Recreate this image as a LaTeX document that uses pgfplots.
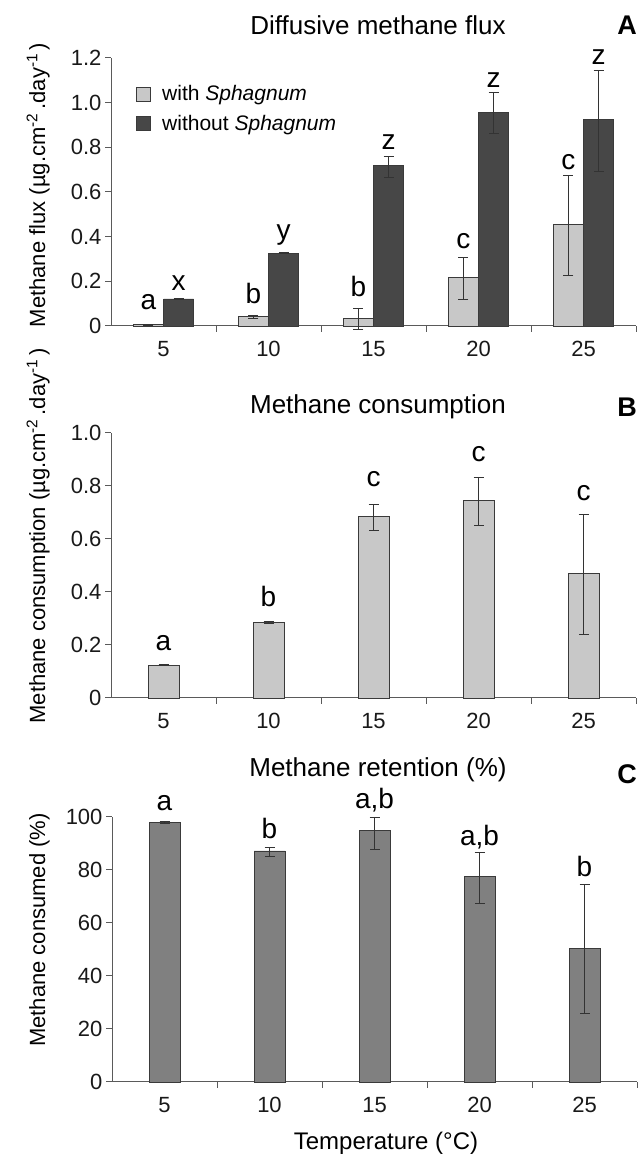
\documentclass[border=0pt]{standalone}
\usepackage{fontspec}
\setmainfont{Liberation Sans}
\usepackage{pgfplots}
\pgfplotsset{compat=1.18}
\definecolor{lightbar}{HTML}{C8C8C8}
\definecolor{darkbar}{HTML}{474747}
\definecolor{midbar}{HTML}{808080}
\definecolor{axgray}{HTML}{5A5A5A}
\definecolor{barline}{HTML}{3A3A3A}

\pgfplotsset{
  sqlegend/.style={legend image code/.code={\draw[##1,draw=barline,line width=0.8pt] (0pt,-7pt) rectangle (14pt,7pt);}},
  panel/.style={
    scale only axis, width=525pt,
    xmin=0.5, xmax=5.5,
    axis x line*=bottom, axis y line*=left,
    axis line style={axgray, line width=1pt, -},
    xtick={1,2,3,4,5}, xticklabels={5,10,15,20,25},
    minor xtick={1.5,2.5,3.5,4.5,5.5},
    major x tick style={draw=none},
    minor tick length=6pt, major tick length=6pt,
    tick align=outside,
    tick style={axgray, line width=1pt},
    ticklabel style={font=\fontsize{22}{26}\selectfont, text=black!90},
    x tick label style={yshift=-6pt},
    /pgf/number format/assume math mode=true,
    clip=false,
  },
  errs/.style={error bars/.cd, y dir=both, y explicit,
    error mark=|,
    error bar style={line width=0.9pt, black!80},
    error mark options={line width=0.9pt, black!80, mark size=5pt}},
}
\newcommand{\lett}{\fontsize{28}{32}\selectfont}
\newcommand{\ylab}{\fontsize{22}{26}\selectfont}

\begin{document}
\begin{tikzpicture}
\path[use as bounding box] (0,0) rectangle (637pt,1155pt);

% ---------- Panel A ----------
\begin{axis}[panel, at={(111pt,829pt)}, anchor=south west, height=268pt,
  ymin=0, ymax=1.2, ytick={0,0.2,0.4,0.6,0.8,1.0,1.2},
  yticklabels={0,0.2,0.4,0.6,0.8,1.0,1.2},
  legend style={at={(0.048,0.905)}, anchor=north west, draw=none, fill=none,
    inner sep=0pt, row sep=9pt, font=\fontsize{21}{24}\selectfont,
    /tikz/every odd column/.append style={column sep=9pt}},
  legend cell align=left]
\addplot[ybar, bar width=30pt, bar shift=0pt, fill=lightbar, draw=barline, line width=0.8pt, sqlegend, errs]
 table[x=x, y=y, y error plus=ep, y error minus=em]{
x y ep em
0.857 0.005 0.002 0.002
1.857 0.041 0.007 0.007
2.857 0.034 0.045 0.048
3.857 0.217 0.089 0.096
4.857 0.456 0.217 0.228
};
\addlegendentry{with \textit{Sphagnum}}
\addplot[ybar, bar width=30pt, bar shift=0pt, fill=darkbar, draw=barline, line width=0.8pt, sqlegend, errs]
 table[x=x, y=y, y error plus=ep, y error minus=em]{
x y ep em
1.143 0.121 0.002 0.002
2.143 0.326 0.003 0.003
3.143 0.720 0.041 0.056
4.143 0.957 0.089 0.094
5.143 0.925 0.217 0.234
};
\addlegendentry{without \textit{Sphagnum}}
\node[anchor=base, font=\lett] at (axis cs:0.857,0.076) {a};
\node[anchor=base, font=\lett] at (axis cs:1.857,0.099) {b};
\node[anchor=base, font=\lett] at (axis cs:2.857,0.134) {b};
\node[anchor=base, font=\lett] at (axis cs:3.857,0.349) {c};
\node[anchor=base, font=\lett] at (axis cs:4.857,0.700) {c};
\node[anchor=base, font=\lett] at (axis cs:1.143,0.161) {x};
\node[anchor=base, font=\lett] at (axis cs:2.143,0.386) {y};
\node[anchor=base, font=\lett] at (axis cs:3.143,0.790) {z};
\node[anchor=base, font=\lett] at (axis cs:4.143,1.070) {z};
\node[anchor=base, font=\lett] at (axis cs:5.143,1.170) {z};
\end{axis}

% ---------- Panel B ----------
\begin{axis}[panel, at={(111pt,457pt)}, anchor=south west, height=265pt,
  ymin=0, ymax=1.0, ytick={0,0.2,0.4,0.6,0.8,1.0},
  yticklabels={0,0.2,0.4,0.6,0.8,1.0}]
\addplot[ybar, bar width=31pt, bar shift=0pt, fill=lightbar, draw=barline, line width=0.8pt, errs]
 table[x=x, y=y, y error plus=ep, y error minus=em]{
x y ep em
1 0.124 0.002 0.002
2 0.284 0.003 0.003
3 0.686 0.046 0.054
4 0.746 0.088 0.094
5 0.469 0.223 0.228
};
\node[anchor=base, font=\lett] at (axis cs:1,0.181) {a};
\node[anchor=base, font=\lett] at (axis cs:2,0.344) {b};
\node[anchor=base, font=\lett] at (axis cs:3,0.797) {c};
\node[anchor=base, font=\lett] at (axis cs:4,0.891) {c};
\node[anchor=base, font=\lett] at (axis cs:5,0.746) {c};
\end{axis}

% ---------- Panel C ----------
\begin{axis}[panel, at={(112pt,73pt)}, anchor=south west, height=265pt,
  ymin=0, ymax=100, ytick={0,20,40,60,80,100},
  yticklabels={0,20,40,60,80,100}]
\addplot[ybar, bar width=31pt, bar shift=0pt, fill=midbar, draw=barline, line width=0.8pt, errs]
 table[x=x, y=y, y error plus=ep, y error minus=em]{
x y ep em
1 98.0 0.4 0.4
2 87.2 1.4 1.9
3 94.8 5.2 7.0
4 77.6 8.9 10.1
5 50.3 24.2 24.3
};
\node[anchor=base, font=\lett] at (axis cs:1,102.6) {a};
\node[anchor=base, font=\lett] at (axis cs:2,92.0) {b};
\node[anchor=base, font=\lett] at (axis cs:3,103.3) {a,b};
\node[anchor=base, font=\lett] at (axis cs:4,89.4) {a,b};
\node[anchor=base, font=\lett] at (axis cs:5,77.5) {b};
\end{axis}

% ---------- Titles, panel letters, axis labels ----------
\node[font=\fontsize{26}{30}\selectfont] at (378pt,1130pt) {Diffusive methane flux};
\node[font=\fontsize{26}{30}\selectfont] at (378pt,748pt) {Methane consumption};
\node[font=\fontsize{26}{30}\selectfont] at (378pt,385pt) {Methane retention (\%)};
\node[font=\bfseries\fontsize{27}{30}\selectfont, anchor=east, inner sep=0pt] at (637pt,1130pt) {A};
\node[font=\bfseries\fontsize{27}{30}\selectfont, anchor=east, inner sep=0pt] at (637pt,748pt) {B};
\node[font=\bfseries\fontsize{27}{30}\selectfont, anchor=east, inner sep=0pt] at (637pt,381pt) {C};

\node[rotate=90, anchor=base, font=\ylab] at (45pt,970pt)
  {Methane flux (µg.cm\textsuperscript{-2}\,.day\textsuperscript{-1}\,)};
\node[rotate=90, anchor=base, font=\ylab] at (45pt,619pt)
  {Methane consumption (µg.cm\textsuperscript{-2}\,.day\textsuperscript{-1}\,)};
\node[rotate=90, anchor=base, font=\ylab] at (45pt,225pt)
  {Methane consumed (\%)};
\node[font=\fontsize{24}{28}\selectfont] at (386pt,12pt) {Temperature (°C)};
\end{tikzpicture}
\end{document}
